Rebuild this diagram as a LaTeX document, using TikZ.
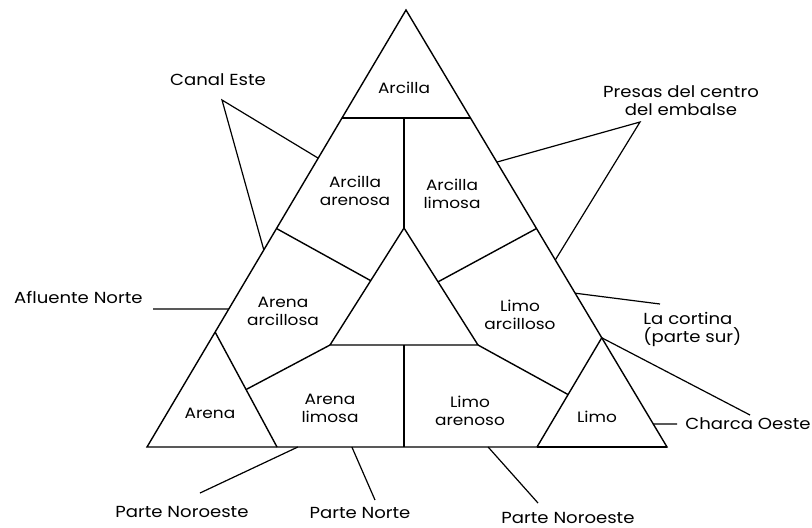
\documentclass[tikz,border=0pt]{standalone}
\usepackage{fontspec}
\setmainfont{Poppins}[FakeStretch=1.13]
\usetikzlibrary{calc}

\tikzset{
  zone/.style={font=\fontsize{7.5}{9}\selectfont, align=center, inner sep=0pt},
  place/.style={font=\fontsize{8}{9}\selectfont, inner sep=0pt},
  edge/.style={line width=.7pt},
  leader/.style={line width=.6pt}
}

\begin{document}
\begin{tikzpicture}[x=.5pt,y=-.5pt]
\useasboundingbox (0,0) rectangle (812,527);
% outer triangle
\coordinate (A) at (406,10); \coordinate (L) at (147,447); \coordinate (R) at (667,447);
% central triangle
\coordinate (C) at (404,228); \coordinate (CL) at (330,345); \coordinate (CR) at (478,345);
\coordinate (CM) at ($(CL)!.5!(CR)$);
% corner triangles
\coordinate (aT) at ($(A)!.737!(L)$); \coordinate (aR) at (277,447);
\coordinate (mT) at ($(A)!.75!(R)$);  \coordinate (mL) at (537,447);
\coordinate (e1) at ($(A)!.247!(L)$); \coordinate (f1) at ($(A)!.247!(R)$);
\coordinate (e2) at ($(A)!.5!(L)$);   \coordinate (f2) at ($(A)!.5!(R)$);

\draw[edge] (A) -- (L) -- (R) -- cycle;
\draw[line width=.9pt] (e1) -- (f1);
\draw[line width=.9pt] (C |- e1) -- (C);
\draw[edge] (C) -- (CL) -- (CR) -- cycle;
\draw[edge] (e2) -- ($(C)!.45!(CL)$);
\draw[edge] (f2) -- ($(C)!.46!(CR)$);
\draw[edge] (aT) -- (aR);
\draw[edge] (mT) -- (mL);
\draw[edge] ($(aT)!.5!(aR)$) -- (CL);
\draw[edge] ($(mT)!.52!(mL)$) -- (CR);
\draw[edge] (CM) -- (CM |- L);
\draw[line width=1.3pt] (mL) -- (R);

% textures
\node[zone] (arcilla) at (404,88) {Arcilla};
\node[zone] (arcAre) at (355,191) {Arcilla\\arenosa};
\node[zone] (arcLim) at (452,194) {Arcilla\\limosa};
\node[zone] (areArc) at (283,311) {Arena\\arcillosa};
\node[zone] (limArc) at (520,315) {Limo\\arcilloso};
\node[zone] (arena) at (210,413) {Arena};
\node[zone] (areLim) at (330,408) {Arena\\limosa};
\node[zone] (limAre) at (470,411) {Limo\\arenoso};
\node[zone] (limo) at (597,417) {Limo};

% sampling places
\node[place] (canal) at (218,80) {Canal Este};
\coordinate (canalV) at (222,100);
\draw[leader] ($(A)!.339!(L)$) -- (canalV) -- ($(A)!.549!(L)$);

\node[place, align=center] (presas) at (681,101) {Presas del centro\\del embalse};
\coordinate (presasV) at (640,122);
\draw[leader] ($(A)!.348!(R)$) -- (presasV) -- ($(A)!.572!(R)$);

\node[place, anchor=east] (afluente) at (143,297) {Afluente Norte};
\coordinate (afluenteE) at (153,309);
\draw[leader] (afluenteE) -- ($(A)!.684!(L)$);

\node[place, anchor=west, align=left] (cortina) at (643,329) {La cortina\\(parte sur)};
\coordinate (cortinaE) at (660,304);
\draw[leader] ($(A)!.648!(R)$) -- (cortinaE);

\node[place, anchor=west] (charca) at (685,424) {Charca Oeste};
\coordinate (charcaE) at (750,415);
\draw[leader] ($(mT)!.79!(R)$) -- ([xshift=-4pt]charca.west);
\draw[leader] (mT) -- (charcaE);

\node[place] (pNO) at (182,512) {Parte Noroeste};
\node[place] (pN) at (360,513) {Parte Norte};
\node[place] (pNE) at (568,518) {Parte Noroeste};
\coordinate (pNOe) at (200,493); \coordinate (pNe) at (375,500); \coordinate (pNEe) at (538,503);
\draw[leader] ($(L)!.29!(R)$) -- (pNOe);
\draw[leader] ($(L)!.394!(R)$) -- (pNe);
\draw[leader] ($(L)!.656!(R)$) -- (pNEe);
\end{tikzpicture}
\end{document}
